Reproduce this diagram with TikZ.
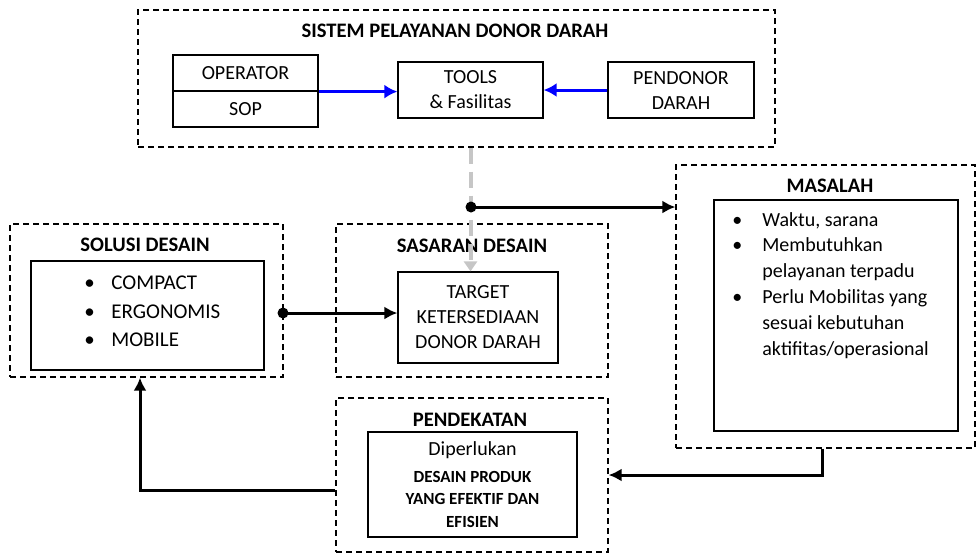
\documentclass[tikz,border=0pt]{standalone}
\usepackage{fontspec}
\setmainfont{Carlito}
\usetikzlibrary{arrows.meta}

\tikzset{
  frame/.style={draw, dash pattern=on 3pt off 2pt, line width=0.6pt, inner sep=0pt},
  box/.style={draw, line width=0.6pt, inner sep=0pt, align=center, font=\fontsize{10}{12.5}\selectfont},
  ttl/.style={font=\fontsize{10.3}{12}\selectfont\bfseries, inner sep=0pt},
  dot/.style={circle, fill, inner sep=0pt, minimum size=5.5pt},
  flow/.style={line width=1.5pt, -{Latex[length=6.5pt,width=6.5pt]}},
  blueflow/.style={draw=blue, line width=1.5pt, -{Latex[length=6.5pt,width=7pt]}},
  grayflow/.style={draw=gray!45, line width=2pt, dash pattern=on 8pt off 4pt, -{Triangle[length=5pt,width=6.5pt]}}
}

\begin{document}
\begin{tikzpicture}[x=0.5pt,y=-0.5pt]
\useasboundingbox (0,0) rectangle (977,554);

% sistem pelayanan
\node[frame, minimum width=318.5pt, minimum height=68.5pt] (sistem) at (456.5,78.5) {};
\node[ttl] (sistemttl) at (455,31) {SISTEM PELAYANAN DONOR DARAH};
\node[box, minimum width=72.5pt, minimum height=18pt] (operator) at (245.5,73) {OPERATOR};
\node[box, minimum width=72.5pt, minimum height=18pt] (sop) at (245.5,109) {SOP};
\node[box, minimum width=72.5pt, minimum height=28pt] (tools) at (470.5,90) {TOOLS\\\& Fasilitas};
\node[box, minimum width=73pt, minimum height=28pt] (pendonor) at (681,90) {PENDONOR\\DARAH};

% masalah
\node[frame, minimum width=149.5pt, minimum height=141.5pt] (masalah) at (825.5,306.5) {};
\node[ttl] (masalahttl) at (830,186) {MASALAH};
\node[box, minimum width=122pt, minimum height=115.5pt] (masalahbox) at (836,315.5) {};
\node[anchor=west, inner sep=0pt, font=\fontsize{10}{12.9}\selectfont] (masalahlist) at (732,285.5) {%
\begin{tabular}{@{}p{15pt}@{}l@{}}
\textbullet & Waktu, sarana\\
\textbullet & Membutuhkan\\
 & pelayanan terpadu\\
\textbullet & Perlu Mobilitas yang\\
 & sesuai kebutuhan\\
 & aktifitas/operasional
\end{tabular}};

% solusi desain
\node[frame, minimum width=136.5pt, minimum height=76.5pt] (solusi) at (146.5,300.5) {};
\node[ttl] (solusittl) at (145,245) {SOLUSI DESAIN};
\node[box, minimum width=116.5pt, minimum height=54.5pt] (solusibox) at (147.5,315.5) {};
\node[anchor=west, inner sep=0pt, font=\fontsize{10.5}{14.25}\selectfont] (solusilist) at (84,312.5) {%
\begin{tabular}{@{}p{13.5pt}@{}l@{}}
\textbullet & COMPACT\\
\textbullet & ERGONOMIS\\
\textbullet & MOBILE
\end{tabular}};

% sasaran desain
\node[frame, minimum width=136pt, minimum height=76.5pt] (sasaran) at (472,300.5) {};
\node[ttl] (sasaranttl) at (472,246) {SASARAN DESAIN};
\node[box, minimum width=80pt, minimum height=45.5pt] (target) at (478,317.5) {TARGET\\KETERSEDIAAN\\DONOR DARAH};

% pendekatan
\node[frame, minimum width=136pt, minimum height=77pt] (pendekatan) at (472,475) {};
\node[ttl] (pendekatanttl) at (470,420) {PENDEKATAN};
\node[box, minimum width=104.5pt, minimum height=52.5pt, font=\fontsize{8.5}{11.25}\selectfont\bfseries] (pendekatanbox) at (472.5,484.5) {%
{\fontsize{10}{12}\selectfont\mdseries Diperlukan}\\[2pt]
DESAIN PRODUK\\
YANG EFEKTIF DAN\\
EFISIEN};

% connectors
\draw[blueflow] (operator.south east) -- (operator.south east -| tools.west);
\draw[blueflow] (pendonor.west) -- (tools.east);
\draw[grayflow] (sistem.south -| tools.south) -- (target.north -| tools.south);
\node[dot] (split) at (471,207) {};
\draw[flow] (split.center) -- (split.center -| masalah.west);
\node[dot] (soldot) at (283,313) {};
\draw[flow] (soldot.center) -- (soldot.center -| target.west);
\draw[flow] ([xshift=-1.75pt]masalah.south) |- (pendekatan.east);
\draw[flow] ([yshift=-7.5pt]pendekatan.west) -| ([xshift=-3.25pt]solusi.south);
\end{tikzpicture}
\end{document}
